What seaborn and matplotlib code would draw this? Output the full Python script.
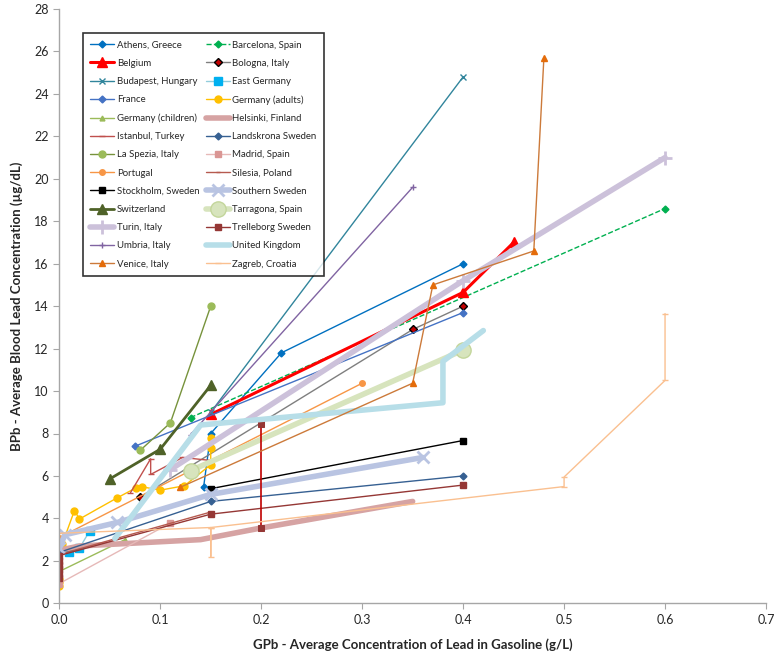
import matplotlib
matplotlib.use("Agg")
import matplotlib.pyplot as plt
import seaborn as sns
import numpy as np

sns.set_style("white")
plt.rcParams['font.family'] = ['Lato', 'DejaVu Sans']

# ---- data (x = GPb g/L, y = BPb ug/dL) ----
athens_x = [0.143, 0.15, 0.22, 0.40]
athens_y = [5.5, 8.0, 11.8, 16.0]
barcelona_x = [0.13, 0.60]
barcelona_y = [8.75, 18.6]
belgium_x = [0.15, 0.40, 0.45]
belgium_y = [8.9, 14.65, 17.0]
bologna_x = [0.08, 0.35, 0.40]
bologna_y = [5.0, 12.9, 14.0]
budapest_x = [0.15, 0.40]
budapest_y = [9.0, 24.8]
eastger_x = [0.01, 0.02, 0.03]
eastger_y = [2.4, 2.6, 3.4]
france_x = [0.075, 0.40]
france_y = [7.4, 13.7]
geradult_x = [0.0, 0.0, 0.0, 0.003, 0.015, 0.02, 0.057, 0.076, 0.082, 0.10, 0.124, 0.15, 0.15, 0.15]
geradult_y = [0.8, 1.0, 1.15, 2.8, 4.37, 3.97, 4.96, 5.44, 5.49, 5.33, 5.54, 6.53, 7.31, 7.78]
gerchild_x = [0.0, 0.065]
gerchild_y = [1.5, 3.0]
helsinki_x = [0.0, 0.02, 0.14, 0.20, 0.35]
helsinki_y = [2.5, 2.7, 3.0, 3.55, 4.8]
istanbul_x = [0.0705, 0.0905, 0.0905, 0.122, 0.15]
istanbul_y = [5.21, 6.81, 6.07, 6.87, 6.73]
landskrona_x = [0.0, 0.15, 0.40]
landskrona_y = [2.4, 4.8, 6.0]
laspezia_x = [0.08, 0.11, 0.15]
laspezia_y = [7.2, 8.5, 14.0]
madrid_x = [0.0, 0.11]
madrid_y = [0.93, 3.78]
portugal_x = [0.0, 0.30]
portugal_y = [3.1, 10.37]
silesia_x = [0.0, 0.15]
silesia_y = [2.3, 4.3]
stockholm_x = [0.15, 0.40]
stockholm_y = [5.4, 7.67]
ssweden_x = [0.0, 0.0056, 0.0576, 0.15, 0.36]
ssweden_y = [2.6, 3.23, 3.81, 5.13, 6.87]
switz_x = [0.05, 0.10, 0.15]
switz_y = [5.86, 7.26, 10.27]
tarragona_x = [0.13, 0.40]
tarragona_y = [6.25, 11.93]
turin_x = [0.11, 0.40, 0.60]
turin_y = [6.3, 15.2, 21.0]
trelle_x = [0.0, 0.0, 0.0, 0.0, 0.0, 0.0, 0.15, 0.40]
trelle_y = [1.2, 1.4, 1.6, 1.8, 2.0, 2.25, 4.2, 5.57]
trelle2_x = [0.20, 0.20]
trelle2_y = [8.47, 3.57]
umbria_x = [0.13, 0.35]
umbria_y = [7.95, 19.6]
uk_x = [0.055, 0.14, 0.38, 0.38, 0.42]
uk_y = [3.05, 8.4, 9.45, 11.4, 12.85]
venice_x = [0.12, 0.35, 0.37, 0.47, 0.48]
venice_y = [5.47, 10.37, 15.0, 16.6, 25.7]
zagreb_x = [0.0, 0.15, 0.15, 0.15, 0.50, 0.50, 0.60, 0.60]
zagreb_y = [3.3, 3.57, 2.2, 3.57, 5.5, 5.95, 10.5, 13.65]

x_ticks = [0.0, 0.1, 0.2, 0.3, 0.4, 0.5, 0.6, 0.7]
y_ticks = list(range(0, 30, 2))

series = [
    ("Athens, Greece", athens_x, athens_y, dict(color="#0070C0", lw=1.0, marker="D", ms=3.5)),
    ("Barcelona, Spain", barcelona_x, barcelona_y, dict(color="#00B050", lw=1.0, ls="--", marker="D", ms=3.5)),
    ("Belgium", belgium_x, belgium_y, dict(color="#FF0000", lw=2.2, marker="^", ms=7)),
    ("Bologna, Italy", bologna_x, bologna_y, dict(color="#7F7F7F", lw=1.0, marker="D", ms=4, mfc="#C00000", mec="#000000")),
    ("Budapest, Hungary", budapest_x, budapest_y, dict(color="#31859C", lw=1.0, marker="x", ms=4)),
    ("East Germany", eastger_x, eastger_y, dict(color="#92CDDC", lw=1.0, marker="s", ms=6, mfc="#00B0F0", mec="#00B0F0")),
    ("France", france_x, france_y, dict(color="#4472C4", lw=1.0, marker="D", ms=3.5)),
    ("Germany (adults)", geradult_x, geradult_y, dict(color="#FFC000", lw=1.0, marker="o", ms=5)),
    ("Germany (children)", gerchild_x, gerchild_y, dict(color="#9BBB59", lw=1.0, marker="^", ms=3.5)),
    ("Helsinki, Finland", helsinki_x, helsinki_y, dict(color="#D6A3A3", lw=4.0)),
    ("Istanbul, Turkey", istanbul_x, istanbul_y, dict(color="#C0504D", lw=1.0, marker="_", ms=4)),
    ("Landskrona Sweden", landskrona_x, landskrona_y, dict(color="#366092", lw=1.0, marker="D", ms=3.5)),
    ("La Spezia, Italy", laspezia_x, laspezia_y, dict(color="#77933C", lw=1.0, marker="o", ms=5, mfc="#9BBB59", mec="#9BBB59")),
    ("Madrid, Spain", madrid_x, madrid_y, dict(color="#E6B9B8", lw=1.0, marker="s", ms=4, mfc="#DA9694", mec="#DA9694")),
    ("Portugal", portugal_x, portugal_y, dict(color="#F79646", lw=1.0, marker="o", ms=4)),
    ("Silesia, Poland", silesia_x, silesia_y, dict(color="#B65A4F", lw=1.0, marker="_", ms=3)),
    ("Stockholm, Sweden", stockholm_x, stockholm_y, dict(color="#000000", lw=1.0, marker="s", ms=5)),
    ("Southern Sweden", ssweden_x, ssweden_y, dict(color="#B9C4E2", lw=4.0, marker="x", ms=9, mew=2)),
    ("Switzerland", switz_x, switz_y, dict(color="#4F6228", lw=2.0, marker="^", ms=7)),
    ("Tarragona, Spain", tarragona_x, tarragona_y, dict(color="#D7E4BD", lw=4.0, marker="o", ms=11, mfc="#D7E4BD", mec="#C3D69B")),
    ("Turin, Italy", turin_x, turin_y, dict(color="#CCC1DA", lw=4.0, marker="+", ms=10, mew=2)),
    ("Trelleborg Sweden", trelle_x, trelle_y, dict(color="#953735", lw=1.0, marker="s", ms=5)),
    ("Umbria, Italy", umbria_x, umbria_y, dict(color="#8064A2", lw=1.0, marker="+", ms=5)),
    ("United Kingdom", uk_x, uk_y, dict(color="#B7DEE8", lw=4.0)),
    ("Venice, Italy", venice_x, venice_y, dict(color="#CC7A3A", lw=1.0, marker="^", ms=4, mfc="#E46C0A", mec="#E46C0A")),
    ("Zagreb, Croatia", zagreb_x, zagreb_y, dict(color="#FAC090", lw=1.0, marker="_", ms=5)),
]

fig = plt.figure(figsize=(7.78, 6.53), dpi=100)
top_px, bot_px, left_px, right_px = 9.0, 603.3, 59.3, 766.0
ax = fig.add_axes([left_px / 778, (653 - bot_px) / 653,
                   (right_px - left_px) / 778, (bot_px - top_px) / 653])

for name, xs, ys, style in series:
    style = dict(style)
    mfc = style.pop("mfc", style["color"])
    mec = style.pop("mec", style["color"])
    ls = style.pop("ls", "-")
    ms = style.pop("ms", 0)
    mew = style.pop("mew", 1.0)
    marker = style.pop("marker", None)
    sns.lineplot(x=xs, y=ys, sort=False, estimator=None, ax=ax,
                 color=style["color"], linewidth=style["lw"], linestyle=ls,
                 marker=marker, markersize=ms, markerfacecolor=mfc,
                 markeredgecolor=mec, markeredgewidth=mew, label=name)
    if name == "Trelleborg Sweden":
        sns.lineplot(x=trelle2_x, y=trelle2_y, sort=False, estimator=None, ax=ax,
                     color="#C00000", linewidth=1.2, marker="s", markersize=5,
                     markerfacecolor="#953735", markeredgecolor="#953735")

h, l = ax.get_legend_handles_labels()
keep = [(hh, ll) for hh, ll in zip(h, l) if not ll.startswith("_")]
h = [k[0] for k in keep]
l = [k[1] for k in keep]
order = list(range(0, 26, 2)) + list(range(1, 26, 2))
leg = ax.legend([h[i] for i in order], [l[i] for i in order], ncol=2,
                loc="upper left", bbox_to_anchor=(0.027, 0.967),
                fontsize=6.9, frameon=True, fancybox=False, edgecolor="black",
                labelspacing=0.96, handlelength=2.5, handletextpad=0.3,
                columnspacing=0.6, borderpad=0.75)
leg.get_frame().set_linewidth(1.2)

ax.set_xlim(0, 0.7)
ax.set_ylim(0, 28)
ax.set_xticks(x_ticks)
ax.set_xticklabels([f"{v:.1f}" for v in x_ticks])
ax.set_yticks(y_ticks)
ax.tick_params(axis="both", labelsize=9, length=4, color="#A6A6A6", direction="out",
               bottom=True, left=True)
for s in ["top", "right"]:
    ax.spines[s].set_visible(False)
for s in ["left", "bottom"]:
    ax.spines[s].set_color("#A6A6A6")
    ax.spines[s].set_linewidth(1.0)
ax.grid(False)
ax.set_xlabel("GPb - Average Concentration of Lead in Gasoline (g/L)", fontsize=9.5,
              fontweight="bold", labelpad=9)
ax.set_ylabel("BPb - Average Blood Lead Concentration (µg/dL)", fontsize=9.5,
              fontweight="bold", labelpad=8)

fig.savefig("out.png", dpi=100)
